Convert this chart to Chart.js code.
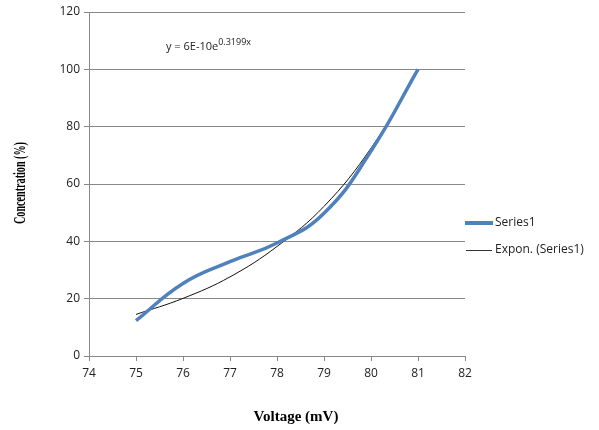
<!DOCTYPE html>
<html lang="en">
<head>
  <meta charset="UTF-8">
  <title>Concentration vs Voltage</title>
  <script src="https://cdn.jsdelivr.net/npm/chart.js"></script>
  <style>
    body { margin: 0; background: #fff; }
    #wrap { width: 599px; height: 430px; }
  </style>
</head>
<body>
  <div id="wrap"><canvas id="chart" width="599" height="430"></canvas></div>

  <script>
    // values
    const voltage = [75, 76, 77, 78, 79, 80, 81];
    const series1 = [12.3, 25.3, 32.9, 39.4, 49.8, 71.5, 100];
    const expon = [14.5, 20.1, 27.6, 38.2, 52.2, 72.5, 99.6];
    const xTicks = [74, 75, 76, 77, 78, 79, 80, 81, 82];
    const yTicks = [0, 20, 40, 60, 80, 100, 120];

    const gridGray = '#888888';
    const tickFont = { family: 'Open Sans', size: 12 };

    // titles, equation and legend are drawn by hand to keep Excel's layout
    const extras = {
      id: 'extras',
      afterDraw(chart) {
        const ctx = chart.ctx;
        ctx.save();
        ctx.fillStyle = '#000';

        // axis titles
        ctx.font = 'bold 15px "Liberation Serif"';
        ctx.textAlign = 'center';
        ctx.textBaseline = 'middle';
        ctx.fillText('Voltage (mV)', 296, 417);

        ctx.save();
        ctx.translate(21, 183);
        ctx.rotate(-Math.PI / 2);
        ctx.font = 'bold 16px "Liberation Serif"';
        const t = 'Concentration (%)';
        const w = ctx.measureText(t).width;
        ctx.scale(82 / w, 1);
        ctx.fillText(t, 0, 0);
        ctx.restore();

        // trendline equation
        ctx.textAlign = 'left';
        ctx.font = '11px "Open Sans"';
        ctx.fillStyle = '#222';
        const base = 'y = 6E-10e';
        ctx.fillText(base, 166, 47);
        const bw = ctx.measureText(base).width;
        ctx.font = '9px "Open Sans"';
        ctx.fillText('0.3199x', 166 + bw, 42);

        // legend
        ctx.lineCap = 'butt';
        ctx.strokeStyle = '#4f81bd';
        ctx.lineWidth = 4;
        ctx.beginPath();
        ctx.moveTo(465, 223);
        ctx.lineTo(493, 223);
        ctx.stroke();
        ctx.strokeStyle = '#333';
        ctx.lineWidth = 1;
        ctx.beginPath();
        ctx.moveTo(466, 250.5);
        ctx.lineTo(492, 250.5);
        ctx.stroke();
        ctx.font = '12px "Open Sans"';
        ctx.fillStyle = '#222';
        ctx.fillText('Series1', 495, 223);
        ctx.fillText('Expon. (Series1)', 495, 250);
        ctx.restore();
      }
    };

    new Chart(document.getElementById('chart'), {
      type: 'line',
      data: {
        datasets: [
          {
            label: 'Series1',
            data: voltage.map((v, i) => ({ x: v, y: series1[i] })),
            borderColor: '#4f81bd',
            borderWidth: 3.5,
            pointRadius: 0,
            tension: 0.45,
            fill: false
          },
          {
            label: 'Expon. (Series1)',
            data: voltage.map((v, i) => ({ x: v, y: expon[i] })),
            borderColor: '#111',
            borderWidth: 1,
            pointRadius: 0,
            tension: 0.4,
            fill: false
          }
        ]
      },
      options: {
        responsive: false,
        animation: false,
        layout: { padding: { top: 12, right: 134, left: 0, bottom: 0 } },
        plugins: {
          legend: { display: false },
          tooltip: { enabled: false }
        },
        scales: {
          x: {
            type: 'linear',
            min: 74,
            max: 82,
            afterBuildTicks: (s) => { s.ticks = xTicks.map(v => ({ value: v })); },
            afterFit: (s) => { s.height = 74; },
            grid: {
              drawOnChartArea: false,
              color: gridGray,
              tickLength: 5
            },
            border: { color: gridGray },
            ticks: { color: '#222', font: tickFont, padding: 5, maxRotation: 0 }
          },
          y: {
            min: 0,
            max: 120,
            afterBuildTicks: (s) => { s.ticks = yTicks.map(v => ({ value: v })); },
            afterFit: (s) => { s.width = 89; },
            grid: { color: gridGray, tickLength: 5 },
            border: { color: gridGray },
            ticks: { color: '#222', font: tickFont, padding: 4 }
          }
        }
      },
      plugins: [extras]
    });
  </script>
</body>
</html>
